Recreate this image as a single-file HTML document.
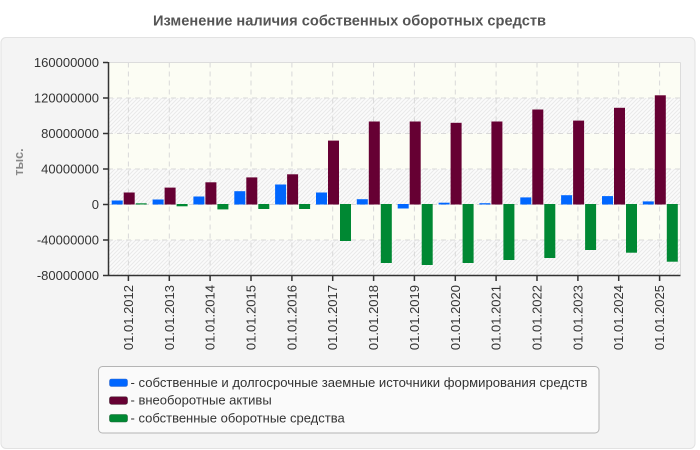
<!DOCTYPE html>
<html><head><meta charset="utf-8"><style>
html,body{margin:0;padding:0;background:#fff;}
svg{display:block;}
text{font-family:"Liberation Sans",Arial,sans-serif;}
</style></head><body>
<svg width="700" height="450" viewBox="0 0 700 450" xmlns="http://www.w3.org/2000/svg">
<defs>
<pattern id="hatch" patternUnits="userSpaceOnUse" width="4" height="4">
<rect width="4" height="4" fill="#fbfbfb"/>
<path d="M-1,1 l2,-2 M0,4 l4,-4 M3,5 l2,-2" stroke="#e9e9e9" stroke-width="1"/>
</pattern>
</defs>
<rect x="0" y="0" width="700" height="450" fill="#fff"/>
<text x="349.5" y="25.5" text-anchor="middle" font-size="14.5" font-weight="bold" fill="#555" textLength="393" lengthAdjust="spacingAndGlyphs">Изменение наличия собственных оборотных средств</text>
<rect x="1" y="37.5" width="694" height="411" rx="5" fill="#f4f4f4" stroke="#e2e2e2"/>

<!-- plot bands -->
<rect x="108" y="62.5" width="572" height="35.5" fill="#fcfdf4"/>
<rect x="108" y="98" width="572" height="35.5" fill="url(#hatch)"/>
<rect x="108" y="133.5" width="572" height="35.5" fill="#fcfdf4"/>
<rect x="108" y="169" width="572" height="35.5" fill="url(#hatch)"/>
<rect x="108" y="204.5" width="572" height="35.5" fill="#fcfdf4"/>
<rect x="108" y="240" width="572" height="35.5" fill="url(#hatch)"/>

<!-- grid -->
<g stroke="#d9d9d9" stroke-width="1" stroke-dasharray="5,4" fill="none">
<line x1="108" y1="98" x2="680" y2="98"/>
<line x1="108" y1="133.5" x2="680" y2="133.5"/>
<line x1="108" y1="169" x2="680" y2="169"/>
<line x1="108" y1="204.5" x2="680" y2="204.5"/>
<line x1="108" y1="240" x2="680" y2="240"/>
<line x1="128.4" y1="62.5" x2="128.4" y2="275"/>
<line x1="169.3" y1="62.5" x2="169.3" y2="275"/>
<line x1="210.1" y1="62.5" x2="210.1" y2="275"/>
<line x1="251" y1="62.5" x2="251" y2="275"/>
<line x1="291.9" y1="62.5" x2="291.9" y2="275"/>
<line x1="332.7" y1="62.5" x2="332.7" y2="275"/>
<line x1="373.6" y1="62.5" x2="373.6" y2="275"/>
<line x1="414.4" y1="62.5" x2="414.4" y2="275"/>
<line x1="455.3" y1="62.5" x2="455.3" y2="275"/>
<line x1="496.1" y1="62.5" x2="496.1" y2="275"/>
<line x1="537" y1="62.5" x2="537" y2="275"/>
<line x1="577.9" y1="62.5" x2="577.9" y2="275"/>
<line x1="618.7" y1="62.5" x2="618.7" y2="275"/>
<line x1="659.6" y1="62.5" x2="659.6" y2="275"/>
</g>
<line x1="108" y1="62.5" x2="680.5" y2="62.5" stroke="#dcdcdc"/>
<line x1="680.5" y1="62.5" x2="680.5" y2="275" stroke="#dcdcdc"/>

<!-- blue bars -->
<g fill="#0066ff">
<rect x="111.7" y="200.5" width="11" height="4"/>
<rect x="152.6" y="199.5" width="11" height="5"/>
<rect x="193.4" y="196.5" width="11" height="8"/>
<rect x="234.3" y="191.2" width="11" height="13.3"/>
<rect x="275.1" y="184.5" width="11" height="20"/>
<rect x="316" y="192.5" width="11" height="12"/>
<rect x="356.8" y="199.2" width="11" height="5.3"/>
<rect x="397.7" y="204" width="11" height="4.5"/>
<rect x="438.6" y="202.7" width="11" height="1.8"/>
<rect x="479.4" y="203.2" width="11" height="1.3"/>
<rect x="520.3" y="197.4" width="11" height="7.1"/>
<rect x="561.1" y="195.2" width="11" height="9.3"/>
<rect x="602" y="196.1" width="11" height="8.4"/>
<rect x="642.8" y="201.4" width="11" height="3.1"/>
</g>
<!-- maroon bars -->
<g fill="#660033">
<rect x="123.7" y="192.5" width="11" height="12"/>
<rect x="164.6" y="187.6" width="11" height="16.9"/>
<rect x="205.4" y="182.3" width="11" height="22.2"/>
<rect x="246.3" y="177.4" width="11" height="27.1"/>
<rect x="287.1" y="174.3" width="11" height="30.2"/>
<rect x="328" y="140.6" width="11" height="63.9"/>
<rect x="368.8" y="121.5" width="11" height="83"/>
<rect x="409.7" y="121.5" width="11" height="83"/>
<rect x="450.6" y="122.8" width="11" height="81.7"/>
<rect x="491.4" y="121.5" width="11" height="83"/>
<rect x="532.3" y="109.5" width="11" height="95"/>
<rect x="573.1" y="120.6" width="11" height="83.9"/>
<rect x="614" y="107.8" width="11" height="96.7"/>
<rect x="654.8" y="95.3" width="11" height="109.2"/>
</g>
<!-- green bars -->
<g fill="#008833">
<rect x="135.7" y="203.3" width="11" height="1.2"/>
<rect x="176.6" y="204" width="11" height="2.3"/>
<rect x="217.4" y="204" width="11" height="5.4"/>
<rect x="258.3" y="204" width="11" height="5"/>
<rect x="299.1" y="204" width="11" height="5"/>
<rect x="340" y="204" width="11" height="37"/>
<rect x="380.8" y="204" width="11" height="59"/>
<rect x="421.7" y="204" width="11" height="61"/>
<rect x="462.6" y="204" width="11" height="59"/>
<rect x="503.4" y="204" width="11" height="56"/>
<rect x="544.3" y="204" width="11" height="54"/>
<rect x="585.1" y="204" width="11" height="46"/>
<rect x="626" y="204" width="11" height="48.7"/>
<rect x="666.8" y="204" width="11" height="57.7"/>
</g>

<!-- axes -->
<g stroke="#333" stroke-width="1.5">
<line x1="108.5" y1="62" x2="108.5" y2="276"/>
<line x1="108" y1="275.5" x2="680.5" y2="275.5"/>
<line x1="103" y1="62.5" x2="108" y2="62.5"/>
<line x1="103" y1="98" x2="108" y2="98"/>
<line x1="103" y1="133.5" x2="108" y2="133.5"/>
<line x1="103" y1="169" x2="108" y2="169"/>
<line x1="103" y1="204.5" x2="108" y2="204.5"/>
<line x1="103" y1="240" x2="108" y2="240"/>
<line x1="103" y1="275.5" x2="108" y2="275.5"/>
<line x1="128.4" y1="275" x2="128.4" y2="281"/>
<line x1="169.3" y1="275" x2="169.3" y2="281"/>
<line x1="210.1" y1="275" x2="210.1" y2="281"/>
<line x1="251" y1="275" x2="251" y2="281"/>
<line x1="291.9" y1="275" x2="291.9" y2="281"/>
<line x1="332.7" y1="275" x2="332.7" y2="281"/>
<line x1="373.6" y1="275" x2="373.6" y2="281"/>
<line x1="414.4" y1="275" x2="414.4" y2="281"/>
<line x1="455.3" y1="275" x2="455.3" y2="281"/>
<line x1="496.1" y1="275" x2="496.1" y2="281"/>
<line x1="537" y1="275" x2="537" y2="281"/>
<line x1="577.9" y1="275" x2="577.9" y2="281"/>
<line x1="618.7" y1="275" x2="618.7" y2="281"/>
<line x1="659.6" y1="275" x2="659.6" y2="281"/>
</g>

<!-- y labels -->
<g font-size="13" fill="#333" text-anchor="end">
<text x="99" y="67">160000000</text>
<text x="99" y="102.5">120000000</text>
<text x="99" y="138">80000000</text>
<text x="99" y="173.5">40000000</text>
<text x="99" y="209">0</text>
<text x="99" y="244.5">-40000000</text>
<text x="99" y="280">-80000000</text>
</g>
<text transform="translate(23,162) rotate(-90)" text-anchor="middle" font-size="12.5" font-weight="bold" fill="#888">тыс.</text>

<!-- x labels -->
<g font-size="13" fill="#333" text-anchor="end">
<text transform="translate(132.9,285) rotate(-90)">01.01.2012</text>
<text transform="translate(173.8,285) rotate(-90)">01.01.2013</text>
<text transform="translate(214.6,285) rotate(-90)">01.01.2014</text>
<text transform="translate(255.5,285) rotate(-90)">01.01.2015</text>
<text transform="translate(296.4,285) rotate(-90)">01.01.2016</text>
<text transform="translate(337.2,285) rotate(-90)">01.01.2017</text>
<text transform="translate(378.1,285) rotate(-90)">01.01.2018</text>
<text transform="translate(418.9,285) rotate(-90)">01.01.2019</text>
<text transform="translate(459.8,285) rotate(-90)">01.01.2020</text>
<text transform="translate(500.6,285) rotate(-90)">01.01.2021</text>
<text transform="translate(541.5,285) rotate(-90)">01.01.2022</text>
<text transform="translate(582.4,285) rotate(-90)">01.01.2023</text>
<text transform="translate(623.2,285) rotate(-90)">01.01.2024</text>
<text transform="translate(664.1,285) rotate(-90)">01.01.2025</text>
</g>

<!-- legend -->
<rect x="98.5" y="366.5" width="500.5" height="66.5" rx="4" fill="#fafafa" stroke="#b4b4b4"/>
<rect x="109.5" y="379" width="18" height="7.5" rx="2" fill="#0066ff" stroke="#3a6fcc" stroke-width="0.6"/>
<rect x="109.5" y="396.8" width="18" height="7.5" rx="2" fill="#660033" stroke="#4a2233" stroke-width="0.6"/>
<rect x="109.5" y="414.5" width="18" height="7.5" rx="2" fill="#008833" stroke="#1e6b3a" stroke-width="0.6"/>
<g font-size="13" fill="#333">
<text x="130.5" y="387" textLength="457" lengthAdjust="spacingAndGlyphs">- собственные и долгосрочные заемные источники формирования средств</text>
<text x="130.5" y="404.7">- внеоборотные активы</text>
<text x="130.5" y="422.4">- собственные оборотные средства</text>
</g>
</svg>
</body></html>
